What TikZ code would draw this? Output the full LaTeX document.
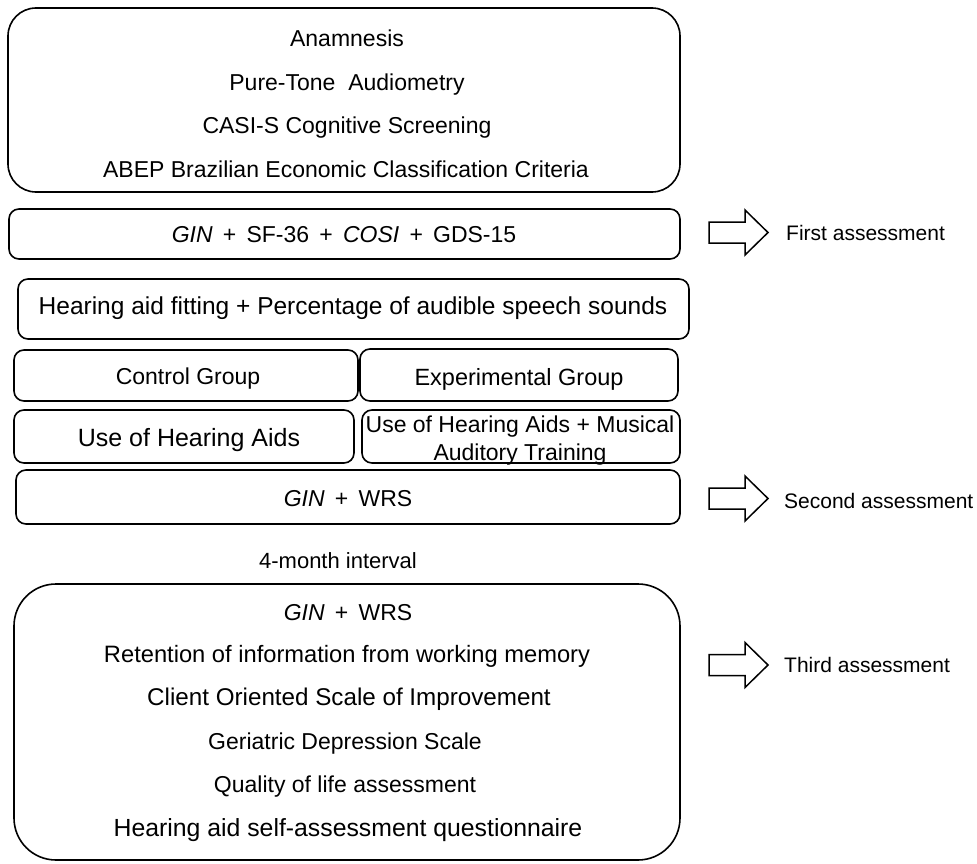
\documentclass[tikz,border=0pt]{standalone}
\usepackage{fontspec}
\setmainfont{Liberation Sans}
\begin{document}
\begin{tikzpicture}[x=1pt,y=-1pt,
  box/.style={draw, line width=1.6pt, rounded corners=10pt, inner sep=0pt},
  txt/.style={anchor=base, inner sep=0pt, font=\fontsize{23}{27}\selectfont},
  big/.style={font=\fontsize{24.5}{28}\selectfont},
  side/.style={anchor=base west, inner sep=0pt, font=\fontsize{21}{25}\selectfont},
  bigarrow/.pic={\draw[line width=1.5pt, line join=miter] (-29,-10.5) -- (7,-10.5) -- (7,-22.5) -- (30,0) -- (7,22.5) -- (7,10.5) -- (-29,10.5) -- cycle;}
]
\useasboundingbox (0,0) rectangle (977,864);

% boxes
\node[box, rounded corners=28pt, minimum width=672pt, minimum height=184pt] (b1) at (344,100) {};
\node[box, minimum width=671pt, minimum height=50pt] (b2) at (344.5,234) {};
\node[box, minimum width=671pt, minimum height=60pt] (b3) at (353.5,309) {};
\node[box, minimum width=344pt, minimum height=51pt] (bc) at (186,375.5) {};
\node[box, minimum width=318pt, minimum height=52pt] (be) at (519,375) {};
\node[box, minimum width=340pt, minimum height=53pt] (bu) at (184,436.5) {};
\node[box, minimum width=318pt, minimum height=53pt] (bm) at (521,436.5) {};
\node[box, minimum width=664pt, minimum height=54pt] (b4) at (348,497) {};
\node[box, rounded corners=42pt, minimum width=666pt, minimum height=276pt] (b5) at (347,722) {};

% box 1 texts
\node[txt] (t11) at (347,47) {Anamnesis};
\node[txt] (t12) at (347,90.5) {Pure-Tone\ \ Audiometry};
\node[txt] (t13) at (347,134) {CASI-S Cognitive Screening};
\node[txt] (t14) at (346,177) {ABEP Brazilian Economic Classification Criteria};

\node[txt] (t2) at (344,242) {\textit{GIN}\,\ +\,\ SF-36\,\ +\,\ \textit{COSI}\,\ +\,\ GDS-15};
\node[txt, big] (t3) at (353,314) {Hearing aid fitting + Percentage of audible speech sounds};
\node[txt] (tc) at (188,384) {Control Group};
\node[txt, font=\fontsize{23.5}{27}\selectfont] (te) at (519,385) {Experimental Group};
\node[txt, font=\fontsize{25}{28}\selectfont] (tu) at (189,446) {Use of Hearing Aids};
\node[txt] (tm1) at (520,432) {Use of Hearing Aids + Musical};
\node[txt] (tm2) at (520,460) {Auditory Training};
\node[txt] (t4) at (348,506) {\textit{GIN}\,\ +\,\ WRS};
\node[txt] (ti) at (338,568) {\fontsize{22}{25}\selectfont 4-month interval};

% last box texts
\node[txt] (t51) at (348,620) {\textit{GIN}\,\ +\,\ WRS};
\node[txt, font=\fontsize{23.7}{27}\selectfont] (t52) at (347,662) {Retention of information from working memory};
\node[txt, font=\fontsize{24.2}{27}\selectfont] (t53) at (349,705) {Client Oriented Scale of Improvement};
\node[txt] (t54) at (345,749) {Geriatric Depression Scale};
\node[txt] (t55) at (345,792) {Quality of life assessment};
\node[txt, font=\fontsize{24.8}{28}\selectfont] (t56) at (348,836) {Hearing aid self-assessment questionnaire};

% arrows and side labels
\pic (a1) at (738,232.5) {bigarrow};
\pic (a2) at (738,498.5) {bigarrow};
\pic (a3) at (738,665) {bigarrow};
\node[side] (s1) at (786,240) {First assessment};
\node[side] (s2) at (784,508) {Second assessment};
\node[side] (s3) at (784,672) {Third assessment};
\end{tikzpicture}
\end{document}
